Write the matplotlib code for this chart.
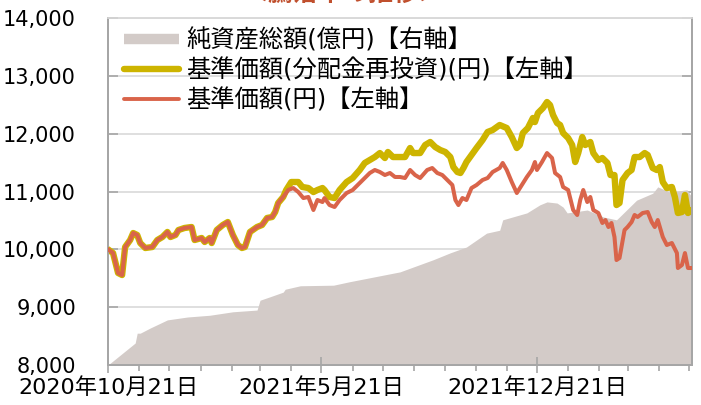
import numpy as np
import matplotlib
matplotlib.use("Agg")
import matplotlib.pyplot as plt
import matplotlib.dates as mdates
from matplotlib.lines import Line2D
from matplotlib.ticker import FixedLocator, FuncFormatter, MultipleLocator

plt.rcParams['font.family'] = ['DejaVu Sans', 'Noto Sans CJK JP']

start = np.datetime64('2020-10-21')

# 基準価額(円) : days from start, value
nav_days = [0, 5, 10, 14, 17, 22, 25, 29, 32, 37, 44, 49, 54, 59, 62, 67, 70, 76, 83, 86,
            93, 96, 101, 103, 108, 114, 119, 124, 129, 133, 136, 141, 148, 153, 158, 163,
            166, 169, 174, 179, 184, 189, 194, 199, 204, 208, 213, 215, 220, 225, 230, 237,
            243, 250, 255, 260, 265, 270, 275, 280, 285, 290, 295, 300, 305, 310, 317, 322,
            327, 332, 337, 342, 345, 348, 352, 356, 361, 366, 372, 377, 382, 389, 392, 396,
            401, 406, 411, 416, 421, 424, 426, 431, 436, 441, 444, 449, 452, 457, 462, 466,
            469, 472, 476, 479, 482, 487, 491, 494, 497, 500, 503, 505, 508, 510, 513, 516,
            520, 523, 526, 531, 536, 540, 543, 546, 551, 555, 560, 565, 566, 570, 573, 576, 580]
nav = [10000, 9936, 9591, 9556, 10040, 10161, 10282, 10248, 10109, 10023, 10040, 10161, 10213,
       10300, 10213, 10248, 10334, 10369, 10386, 10161, 10196, 10127, 10196, 10109, 10334,
       10421, 10472, 10248, 10075, 10023, 10040, 10300, 10386, 10421, 10542, 10559, 10645,
       10801, 10905, 11026, 11060, 10991, 10887, 10905, 10680, 10853, 10818, 10887, 10766,
       10732, 10853, 10974, 11026, 11147, 11233, 11320, 11372, 11337, 11285, 11320, 11251,
       11251, 11233, 11372, 11285, 11233, 11372, 11406, 11320, 11285, 11199, 11112, 10853,
       10766, 10887, 10853, 11060, 11112, 11199, 11233, 11337, 11406, 11493, 11372, 11164,
       10974, 11112, 11251, 11372, 11510, 11372, 11510, 11665, 11579, 11320, 11251, 11078,
       11026, 10680, 10594, 10853, 11026, 10818, 10905, 10680, 10628, 10455, 10507, 10386,
       10455, 10213, 9815, 9850, 10040, 10334, 10386, 10472, 10594, 10559, 10628, 10645,
       10472, 10386, 10507, 10213, 10075, 10109, 9936, 9677, 9729, 9936, 9677, 9677]

# 基準価額(分配金再投資)(円)
reinv_days = nav_days[:39] + [
    177, 182, 189, 193, 199, 204, 208, 213, 215, 220, 225, 230, 237, 243, 250, 255, 260,
    265, 270, 275, 278, 283, 290, 295, 300, 303, 310, 315, 320, 325, 330, 335, 340, 343,
    347, 350, 353, 356, 361, 366, 372, 377, 382, 389, 396, 401, 406, 409, 412, 417, 422,
    424, 427, 432, 436, 439, 442, 446, 449, 452, 457, 461, 464, 467, 471, 474, 479, 482,
    487, 491, 496, 499, 503, 505, 508, 511, 516, 520, 523, 528, 533, 536, 541, 545, 548,
    551, 555, 560, 563, 566, 570, 573, 576, 580]
reinv = nav[:39] + [
    11026, 11164, 11164, 11078, 11060, 10991, 11026, 11060, 11026, 10905, 10887, 11026,
    11164, 11233, 11372, 11493, 11544, 11596, 11665, 11579, 11683, 11596, 11596, 11596,
    11752, 11665, 11665, 11804, 11856, 11769, 11717, 11683, 11596, 11423, 11337, 11320,
    11406, 11510, 11631, 11752, 11890, 12029, 12063, 12150, 12098, 11942, 11752, 11804,
    12011, 12098, 12271, 12201, 12357, 12444, 12547, 12495, 12323, 12184, 12150, 12011,
    11925, 11804, 11510, 11665, 11942, 11804, 11856, 11665, 11544, 11579, 11493, 11285,
    11285, 10766, 10801, 11199, 11320, 11372, 11596, 11596, 11665, 11631, 11406, 11372,
    11423, 11164, 11060, 11078, 10905, 10628, 10645, 10939, 10628, 10680]

# 純資産総額(億円)
aum_days = [0, 27, 29, 32, 42, 59, 79, 101, 124, 148, 151, 161, 174, 176, 191, 224, 240, 290,
            323, 340, 356, 366, 376, 389, 392, 416, 429, 436, 446, 452, 456, 476, 492, 505,
            508, 525, 541, 546, 558, 575, 580]
aum = [0, 38, 55, 55, 64, 78, 83, 86, 92, 95, 112, 118, 126, 131, 137, 138, 144, 161, 182,
       194, 204, 216, 228, 233, 251, 263, 277, 282, 280, 273, 263, 268, 256, 251, 256, 285,
       297, 308, 299, 303, 290]

major_ticks = ['2020-10-21', '2021-05-21', '2021-12-21']

labels = ['純資産総額(億円)【右軸】', '基準価額(分配金再投資)(円)【左軸】', '基準価額(円)【左軸】']

c_aum = '#d3cbc8'
c_reinv = '#cdb400'
c_nav = '#d9644a'
c_axis = '#a6a6a6'
c_grid = '#d9d9d9'

to_dates = lambda d: start + np.array(d).astype('timedelta64[D]')

fig = plt.figure(figsize=(7.01, 4.05), dpi=100)
ax = fig.add_axes([108 / 701, 40 / 405, 584 / 701, 347 / 405])
ax2 = ax.twinx()
ax.set_zorder(ax2.get_zorder() + 1)
ax.patch.set_visible(False)

ax2.fill_between(to_dates(aum_days), 0, aum, color=c_aum, lw=0, zorder=1)
ax2.set_ylim(0, 600)
ax2.yaxis.set_major_locator(MultipleLocator(100))
ax2.grid(axis='y', color=c_grid, lw=1.2, zorder=0)
ax2.set_axisbelow(True)
ax2.tick_params(axis='y', direction='in', length=7, color=c_axis, width=1.2, labelright=False)

ax.plot(to_dates(reinv_days), reinv, color=c_reinv, lw=4.6, solid_joinstyle='round',
        solid_capstyle='round', zorder=2)
ax.plot(to_dates(nav_days), nav, color=c_nav, lw=2.9, solid_joinstyle='round', zorder=3)

ax.set_ylim(8000, 14000)
ax.yaxis.set_major_locator(MultipleLocator(1000))
ax.yaxis.set_major_formatter(FuncFormatter(lambda v, p: f'{v:,.0f}'))
ax.tick_params(axis='y', direction='in', length=7, color=c_axis, width=1.2, pad=23,
               labelsize=15)

ax.set_xlim(start, start + np.timedelta64(580, 'D'))
ax.xaxis.set_major_locator(FixedLocator(mdates.date2num(np.array(major_ticks, dtype='datetime64[D]'))))
ax.xaxis.set_minor_locator(mdates.MonthLocator(bymonthday=21))
ax.xaxis.set_major_formatter(FuncFormatter(
    lambda v, p: (lambda d: f'{d.year}年{d.month}月{d.day}日')(mdates.num2date(v))))
ax.tick_params(axis='x', which='major', direction='inout', length=11, color=c_axis, width=1.2,
               labelsize=16, pad=3)
ax.tick_params(axis='x', which='minor', direction='out', length=4, color=c_axis, width=1.2)

for a in (ax, ax2):
    for s in ('left', 'right', 'bottom'):
        a.spines[s].set_color(c_axis)
        a.spines[s].set_linewidth(1.4)
    a.spines['top'].set_color(c_grid)
    a.spines['top'].set_linewidth(1.2)

handles = [Line2D([], [], color=c_aum, lw=7.5, solid_capstyle='butt'),
           Line2D([], [], color=c_reinv, lw=4.6, solid_capstyle='round'),
           Line2D([], [], color=c_nav, lw=2.8, solid_capstyle='round')]
ax.legend(handles, labels, loc='upper left', bbox_to_anchor=(0.028, 0.972), frameon=False,
          fontsize=17.5, handlelength=2.25, handletextpad=0.3, labelspacing=0.24,
          borderpad=0, borderaxespad=0)

fig.text(0.49, 1.015, '＜騰落率の推移＞', color='#c0502e', fontsize=18, fontweight='bold',
         ha='center', va='center', family=['Noto Sans CJK JP'])

fig.savefig('out.png', dpi=100)
